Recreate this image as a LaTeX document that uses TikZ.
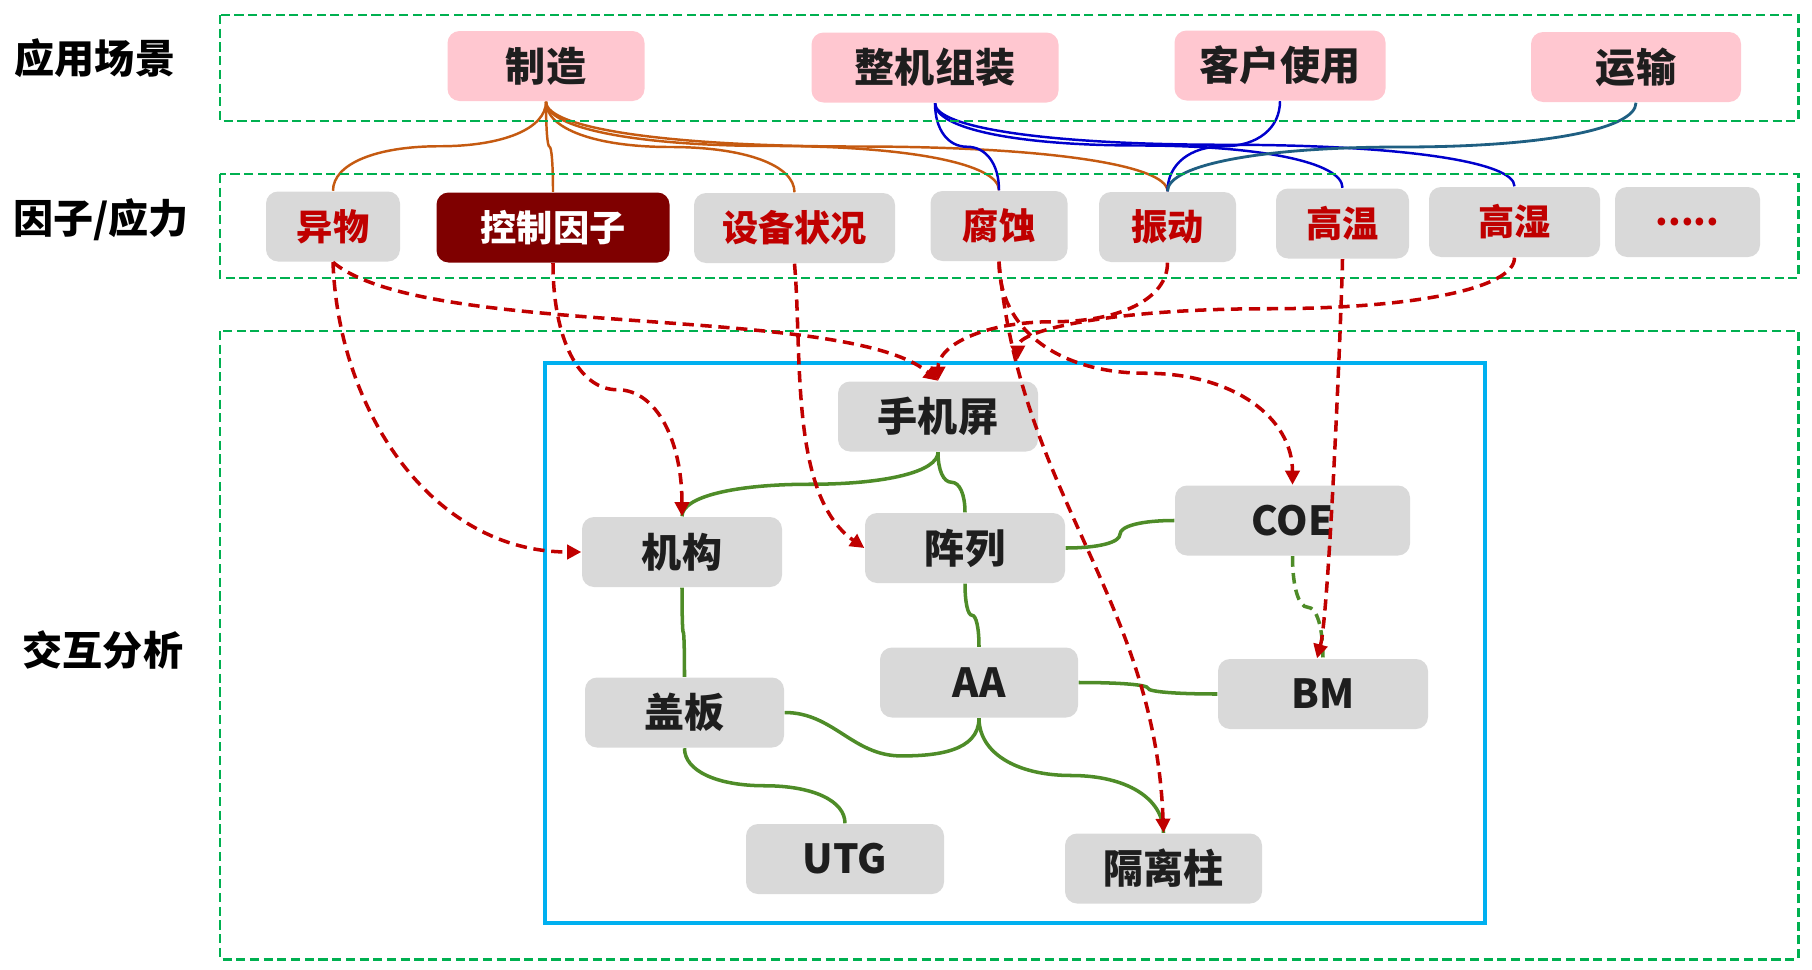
\documentclass[tikz,border=0pt]{standalone}
\usepackage{fontspec}
\setmainfont{Noto Sans CJK SC}
\usetikzlibrary{arrows.meta,calc}
\definecolor{figpink}{RGB}{255,199,208}
\definecolor{figgray}{RGB}{217,217,217}
\definecolor{figmaroon}{RGB}{127,0,0}
\definecolor{figred}{RGB}{192,0,0}
\definecolor{figgreen}{RGB}{0,176,80}
\definecolor{figcyan}{RGB}{0,176,240}
\definecolor{figleaf}{RGB}{78,140,40}
\definecolor{figorange}{RGB}{197,90,17}
\definecolor{figblue}{RGB}{0,0,204}
\definecolor{figteal}{RGB}{31,95,130}
\definecolor{figink}{RGB}{30,30,30}
\tikzset{
  fgbox/.style  ={rounded corners=0.12cm,inner sep=0pt,minimum height=0.70cm,text=figink,
                  font=\bfseries\fontsize{11.4}{13}\selectfont},
  pbox/.style   ={fgbox,fill=figpink},
  gbox/.style   ={fgbox,fill=figgray},
  fbox/.style   ={gbox,text=figred,font=\bfseries\fontsize{10.3}{12}\selectfont},
  kbox/.style   ={fbox,fill=figmaroon,text=white},
  side/.style   ={inner sep=0pt,font=\bfseries\fontsize{11.4}{13}\selectfont},
  zone/.style   ={draw=figgreen,line width=0.85pt,dash pattern=on 2.6pt off 1.3pt},
  frame/.style  ={draw=figcyan,line width=1.4pt},
  olink/.style  ={figorange,line width=0.7pt},
  blink/.style  ={figblue,line width=0.7pt},
  tlink/.style  ={figteal,line width=0.8pt},
  glink/.style  ={figleaf,line width=1.0pt},
  gdlink/.style ={glink,dash pattern=on 3pt off 1.8pt},
  rarr/.style   ={figred,line width=1.0pt,dash pattern=on 3.2pt off 1.9pt,
                  -{Triangle[length=4pt,width=4pt]}},
}
\pgfdeclarelayer{links}
\pgfdeclarelayer{arrows}
\pgfsetlayers{links,main,arrows}
% vertical elbow: down, flat in the middle, down again
\newcommand{\vlink}[3]{%
  \coordinate (vm) at ($(#2)!0.5!(#3)$);
  \draw[#1] (#2) .. controls ($(#2)!0.6!(#2|-vm)$) and ($(vm)!0.6!(#2|-vm)$) .. (vm)
    .. controls ($(vm)!0.6!(#3|-vm)$) and ($(#3)!0.6!(#3|-vm)$) .. (#3);}
% horizontal elbow
\newcommand{\hlink}[3]{%
  \coordinate (vm) at ($(#2)!0.5!(#3)$);
  \draw[#1] (#2) .. controls ($(#2)!0.6!(vm|-#2)$) and ($(vm)!0.6!(vm|-#2)$) .. (vm)
    .. controls ($(vm)!0.6!(vm|-#3)$) and ($(#3)!0.6!(vm|-#3)$) .. (#3);}

\begin{document}
\begin{tikzpicture}
  \useasboundingbox (0,0) rectangle (18.12,-9.70);
  % zones
  \draw[zone] (2.20,-0.15) rectangle (17.98,-1.21);
  \draw[zone] (2.20,-1.74) rectangle (17.98,-2.78);
  \draw[zone] (2.20,-3.31) rectangle (17.98,-9.59);
  \draw[frame] (5.45,-3.63) rectangle (14.85,-9.23);
  \node[side] (lab1) at (0.95,-0.58) {应用场景};
  \node[side] (lab2) at (1.01,-2.20) {因子/应力};
  \node[side] (lab3) at (1.03,-6.50) {交互分析};
  % scenes
  \node[pbox,minimum width=1.97cm] (zz) at (5.46,-0.66) {制造};
  \node[pbox,minimum width=2.47cm] (zj) at (9.35,-0.675) {整机组装};
  \node[pbox,minimum width=2.11cm] (kh) at (12.80,-0.655) {客户使用};
  \node[pbox,minimum width=2.10cm] (ys) at (16.36,-0.67) {运输};
  % factors
  \node[fbox,minimum width=1.34cm] (yw) at (3.33,-2.265) {异物};
  \node[kbox,minimum width=2.33cm] (kz) at (5.53,-2.275) {控制因子};
  \node[fbox,minimum width=2.01cm] (sb) at (7.945,-2.28) {设备状况};
  \node[fbox,minimum width=1.37cm] (fs) at (9.99,-2.26) {腐蚀};
  \node[fbox,minimum width=1.37cm] (zd) at (11.675,-2.27) {振动};
  \node[fbox,minimum width=1.33cm] (gw) at (13.425,-2.235) {高温};
  \node[fbox,minimum width=1.71cm] (gs) at (15.145,-2.22) {高湿};
  \node[fbox,minimum width=1.45cm] (more) at (16.875,-2.22) {.....};
  % parts
  \node[gbox,minimum width=2.00cm] (sj) at (9.38,-4.165) {手机屏};
  \node[gbox,minimum width=2.00cm] (jg) at (6.82,-5.52) {机构};
  \node[gbox,minimum width=2.00cm] (zl) at (9.65,-5.48) {阵列};
  \node[gbox,minimum width=2.35cm] (coe) at (12.925,-5.205) {COE};
  \node[gbox,minimum width=2.10cm] (bm) at (13.23,-6.94) {BM};
  \node[gbox,minimum width=1.98cm] (aa) at (9.79,-6.825) {AA};
  \node[gbox,minimum width=1.99cm] (gb) at (6.845,-7.125) {盖板};
  \node[gbox,minimum width=1.98cm] (utg) at (8.45,-8.59) {UTG};
  \node[gbox,minimum width=1.97cm] (glz) at (11.635,-8.685) {隔离柱};
  \coordinate (gsend) at ([xshift=-0.21cm,yshift=0.21cm]sj.north east);
  \coordinate (bmin) at ([xshift=-0.06cm]bm.north);
  \coordinate (gbm) at ($(gb.east)!0.6!(aa.south)+(0,-0.40)$);
  \begin{pgfonlayer}{links}
    \vlink{olink}{zz.south}{yw.north}
    \vlink{olink}{zz.south}{kz.north}
    \vlink{olink}{zz.south}{sb.north}
    \vlink{olink}{zz.south}{fs.north}
    \vlink{olink}{zz.south}{zd.north}
    \vlink{blink}{zj.south}{fs.north}
    \vlink{blink}{zj.south}{gw.north}
    \vlink{blink}{zj.south}{gs.north}
    \vlink{blink}{kh.south}{zd.north}
    \vlink{tlink}{ys.south}{zd.north}
    \vlink{glink}{sj.south}{jg.north}
    \vlink{glink}{sj.south}{zl.north}
    \vlink{glink}{zl.south}{aa.north}
    \vlink{glink}{jg.south}{gb.north}
    \hlink{glink}{zl.east}{coe.west}
    \hlink{glink}{aa.east}{bm.west}
    \vlink{glink}{aa.south}{glz.north}
    \vlink{glink}{gb.south}{utg.north}
    \vlink{gdlink}{coe.south}{bm.north}
    \draw[glink] (gb.east) to[out=0,in=180] (gbm) to[out=0,in=-90] (aa.south);
  \end{pgfonlayer}
  \begin{pgfonlayer}{arrows}
    \draw[rarr] (yw.south) to[out=-88,in=180] (jg.west);
    \draw[rarr] (yw.south) to[out=-40,in=140,looseness=0.5] (sj.north);
    \vlink{rarr}{kz.south}{jg.north}
    \draw[rarr] (sb.south) to[out=-85,in=145,looseness=0.8] (zl.west);
    \draw[rarr] (fs.south) to[out=-85,in=92] (glz.north);
    \vlink{rarr}{fs.south}{coe.north}
    \vlink{rarr}{zd.south}{sj.north}
    \draw[rarr] (gw.south) to[out=-91,in=75,looseness=0.3] (bmin);
    \vlink{rarr}{gs.south}{gsend}
  \end{pgfonlayer}
\end{tikzpicture}
\end{document}
